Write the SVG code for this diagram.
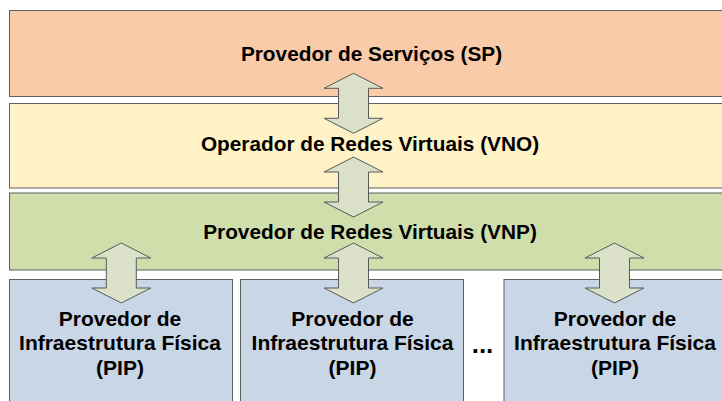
<svg xmlns="http://www.w3.org/2000/svg" width="722" height="401" viewBox="0 0 722 401">
  <defs>
    <style>
      .layer { stroke: #5f5f5f; stroke-width: 1; }
      .sp { fill: #f9cba8; }
      .vno { fill: #fff2c6; }
      .vnp { fill: #cfdeab; }
      .pip { fill: #c9d6e6; }
      .label { font-family: "Liberation Sans", Arial, sans-serif; font-weight: bold; font-size: 20.8px; fill: #000; text-anchor: middle; }
      .pip-label { font-size: 21px; }
      .dots { font-size: 26px; }
      .link { fill: #dbe0c9; stroke: #595959; stroke-width: 1; stroke-linejoin: miter; }
    </style>
    <!-- two-headed vertical arrow, 60 tall, centred on x = 0, top at y = 0 -->
    <path id="dbl-arrow" d="M0,0 L29.5,15 L15,15 L15,45 L29.5,45 L0,60 L-29.5,45 L-15,45 L-15,15 L-29.5,15 Z"/>
  </defs>

  <rect width="722" height="401" fill="#ffffff"/>

  <g id="sp">
    <rect class="layer sp" x="9.5" y="10.5" width="730" height="86"/>
    <text class="label" x="371.5" y="61">Provedor de Serviços (SP)</text>
  </g>

  <g id="vno">
    <rect class="layer vno" x="9.5" y="103.5" width="730" height="84.5"/>
    <text class="label" x="370" y="151">Operador de Redes Virtuais (VNO)</text>
  </g>

  <g id="vnp">
    <rect class="layer vnp" x="9.5" y="193" width="730" height="77"/>
    <text class="label" x="370" y="238.5">Provedor de Redes Virtuais (VNP)</text>
  </g>

  <g id="pip-1">
    <rect class="layer pip" x="9.5" y="279.5" width="223" height="130"/>
    <text class="label pip-label" x="120" y="326">Provedor de</text>
    <text class="label pip-label" x="120" y="350">Infraestrutura Física</text>
    <text class="label pip-label" x="120" y="374.5">(PIP)</text>
  </g>

  <g id="pip-2">
    <rect class="layer pip" x="240.5" y="279.5" width="223" height="130"/>
    <text class="label pip-label" x="352.5" y="326">Provedor de</text>
    <text class="label pip-label" x="352.5" y="350">Infraestrutura Física</text>
    <text class="label pip-label" x="352.5" y="374.5">(PIP)</text>
  </g>

  <g id="ellipsis">
    <text class="label dots" x="482.5" y="353">...</text>
  </g>

  <g id="pip-n">
    <rect class="layer pip" x="504" y="279.5" width="230" height="130"/>
    <text class="label pip-label" x="615" y="326">Provedor de</text>
    <text class="label pip-label" x="615" y="350">Infraestrutura Física</text>
    <text class="label pip-label" x="615" y="374.5">(PIP)</text>
  </g>

  <g id="connectors">
    <use href="#dbl-arrow" class="link" x="353.5" y="73.3"/>
    <use href="#dbl-arrow" class="link" x="353.5" y="157"/>
    <use href="#dbl-arrow" class="link" x="121.3" y="243"/>
    <use href="#dbl-arrow" class="link" x="353.5" y="243"/>
    <use href="#dbl-arrow" class="link" x="614.5" y="243"/>
  </g>
</svg>
